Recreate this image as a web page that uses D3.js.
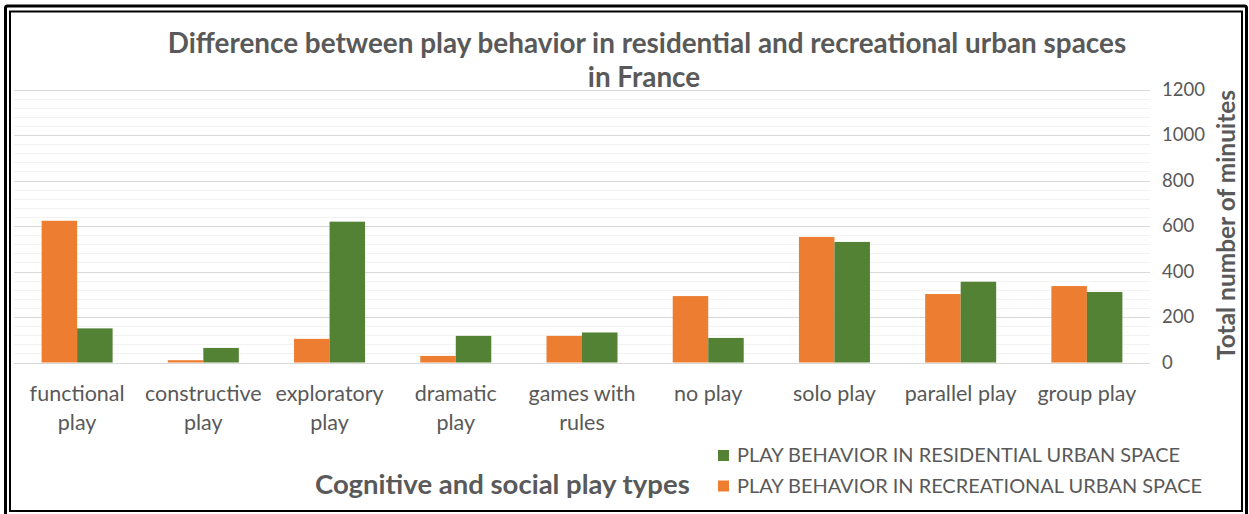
<!DOCTYPE html>
<html>
<head>
<meta charset="utf-8">
<script src="https://cdn.jsdelivr.net/npm/d3@7/dist/d3.min.js"></script>
<style>
  html, body { margin: 0; padding: 0; background: #fff; }
  svg { display: block; }
  text { font-family: Lato, "Open Sans", sans-serif; }
</style>
</head>
<body>
<svg id="chart" width="1249" height="514"></svg>
<script>
// ---- data ----
const categories = [
  ["functional", "play"],
  ["constructive", "play"],
  ["exploratory", "play"],
  ["dramatic", "play"],
  ["games with", "rules"],
  ["no play"],
  ["solo play"],
  ["parallel play"],
  ["group play"]
];
const categoryKeys = categories.map(c => c.join(" "));
const recreational = [623, 10, 104, 29, 117, 292, 552, 301, 336];
const residential  = [150, 64, 619, 117, 132, 108, 530, 355, 310];
const seriesNames = ["PLAY BEHAVIOR IN RECREATIONAL URBAN SPACE", "PLAY BEHAVIOR IN RESIDENTIAL URBAN SPACE"];
const seriesColors = ["#ED7D31", "#548235"];
const yTicks = [0, 200, 400, 600, 800, 1000, 1200];
const titleLines = ["Difference between play behavior in residential and recreational urban spaces", "in France"];
const xTitle = "Cognitive and social play types";
const yTitle = "Total number of minuites";

// ---- layout ----
const svg = d3.select("#chart");
const textColor = "#595959";
const plot = { left: 14, right: 1150, top: 89.5, bottom: 362.5 };

function fitWidth(sel, target) {
  const w = sel.node().getComputedTextLength();
  const fs = parseFloat(sel.attr("font-size"));
  sel.attr("font-size", fs * target / w);
  return fs * target / w;
}

// borders
svg.append("rect").attr("x", 5.5).attr("y", 6).attr("width", 1241).attr("height", 512)
  .attr("fill", "none").attr("stroke", "#000").attr("stroke-width", 3).attr("rx", 2);
svg.append("rect").attr("x", 10).attr("y", 11.5).attr("width", 1232).attr("height", 499.5)
  .attr("fill", "none").attr("stroke", "#000").attr("stroke-width", 2);

// scales
const x = d3.scaleBand().domain(categoryKeys).range([plot.left, plot.right])
  .paddingInner(0.4375).paddingOuter(0.21875);
const xs = d3.scaleBand().domain([0, 1]).range([0, x.bandwidth()]);
const y = d3.scaleLinear().domain([0, 1200]).range([plot.bottom, plot.top]);

// gridlines (minor every 40, major every 200)
const minor = d3.range(0, 1201, 40).filter(v => v % 200 !== 0);
svg.append("g").selectAll("line").data(minor).join("line")
  .attr("x1", plot.left).attr("x2", plot.right)
  .attr("y1", d => Math.round(y(d)) + 0.5).attr("y2", d => Math.round(y(d)) + 0.5)
  .attr("stroke", "#f2f2f2").attr("stroke-width", 1);
svg.append("g").selectAll("line").data(yTicks).join("line")
  .attr("x1", plot.left).attr("x2", plot.right)
  .attr("y1", d => Math.round(y(d)) + 0.5).attr("y2", d => Math.round(y(d)) + 0.5)
  .attr("stroke", "#d9d9d9").attr("stroke-width", 1);

// bars
const seriesData = [recreational, residential];
seriesData.forEach((vals, si) => {
  svg.append("g").selectAll("rect").data(vals).join("rect")
    .attr("x", (d, i) => x(categoryKeys[i]) + xs(si))
    .attr("width", xs.bandwidth())
    .attr("y", d => y(d))
    .attr("height", d => y(0) - y(d))
    .attr("fill", seriesColors[si]);
});

// y axis (right side) using d3 axis
const yAxis = svg.append("g").attr("transform", `translate(${1162},0)`)
  .call(d3.axisRight(y).tickValues(yTicks).tickSize(0).tickPadding(0).tickFormat(d3.format("d")));
yAxis.select(".domain").remove();
yAxis.selectAll("text").attr("fill", textColor).attr("font-size", 18.5)
  .attr("font-family", "Lato, sans-serif");

// x labels
const probe = svg.append("text").attr("font-size", 19).text(categories[0][0]);
const xfs = fitWidth(probe, 95);
probe.remove();
const xl = svg.append("g");
categories.forEach((lines, i) => {
  const cx = x(categoryKeys[i]) + x.bandwidth() / 2;
  lines.forEach((ln, j) => {
    xl.append("text").attr("x", cx).attr("y", 401 + j * 29)
      .attr("text-anchor", "middle").attr("fill", textColor)
      .attr("font-size", xfs).text(ln);
  });
});

// title
const t1 = svg.append("text").attr("x", 647).attr("y", 53).attr("text-anchor", "middle")
  .attr("font-weight", "bold").attr("fill", textColor).attr("font-size", 22).text(titleLines[0]);
const tfs = fitWidth(t1, 959);
svg.append("text").attr("x", 644).attr("y", 87).attr("text-anchor", "middle")
  .attr("font-weight", "bold").attr("fill", textColor).attr("font-size", tfs).text(titleLines[1]);

// y title
const yt = svg.append("text").attr("transform", "translate(1235,225) rotate(-90)")
  .attr("text-anchor", "middle").attr("font-weight", "bold").attr("fill", textColor)
  .attr("font-size", 20).text(yTitle);
fitWidth(yt, 270);

// x title
const xt = svg.append("text").attr("x", 315).attr("y", 494)
  .attr("font-weight", "bold").attr("fill", textColor).attr("font-size", 22).text(xTitle);
fitWidth(xt, 375);

// legend
const legendRows = [
  { name: seriesNames[1], color: seriesColors[1], y: 455.5, w: 443 },
  { name: seriesNames[0], color: seriesColors[0], y: 486, w: 465 }
];
legendRows.forEach(r => {
  svg.append("rect").attr("x", 718).attr("y", r.y - 5.5).attr("width", 11).attr("height", 11)
    .attr("fill", r.color);
  svg.append("text").attr("x", 737).attr("y", r.y + 6.5).attr("fill", textColor)
    .attr("font-size", 18.5).attr("textLength", r.w).attr("lengthAdjust", "spacingAndGlyphs")
    .text(r.name);
});
</script>
</body>
</html>
